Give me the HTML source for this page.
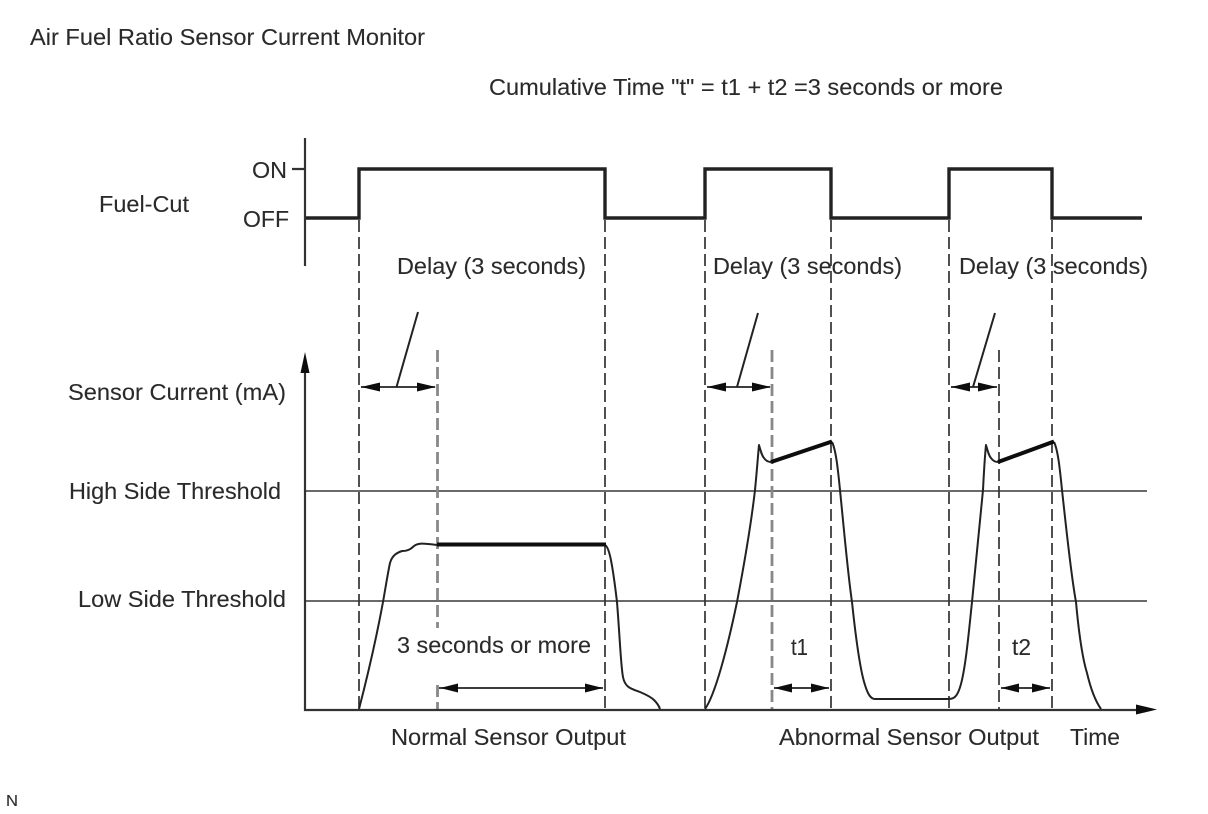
<!DOCTYPE html>
<html>
<head>
<meta charset="utf-8">
<style>
html,body{margin:0;padding:0;background:#fff}
svg{display:block}
text{font-family:"Liberation Sans",Arial,sans-serif;font-size:23px;fill:#2a2a2a;stroke:#2a2a2a;stroke-width:.1}
</style>
</head>
<body>
<svg width="1208" height="814" viewBox="0 0 1208 814" xmlns="http://www.w3.org/2000/svg">
<defs>
<filter id="b" x="-5%" y="-5%" width="110%" height="110%"><feGaussianBlur stdDeviation="0.35"/></filter>
</defs>
<rect width="1208" height="814" fill="#fff"/>
<g filter="url(#b)">
<!-- thresholds -->
<g stroke="#555" stroke-width="1.8" fill="none">
<path d="M305 491H1147M305 601H1147"/>
</g>
<!-- dashed -->
<g stroke="#333" stroke-width="1.7" fill="none" stroke-dasharray="12 5">
<path d="M359 220V709M605 220V709M705 220V709M831 220V709M949 220V709M1052 220V709"/>
<path d="M999 350V709"/>
</g>
<g stroke="#888" stroke-width="2.8" fill="none" stroke-dasharray="12 5">
<path d="M437.500 350V628M437.500 685V709M772 350V709"/>
</g>
<!-- axes -->
<g stroke="#333" stroke-width="2.2" fill="none">
<path d="M305 138V266M292 169H305"/>
<path d="M305 365V710H1142"/>
</g>
<path d="M305 352L309.500 373H300.500Z" fill="#111"/>
<path d="M1157 709.500L1136 704.500V714.500Z" fill="#111"/>
<!-- fuel cut -->
<path d="M306 218H359V169H605V218H705V169H831V218H949V169H1052V218H1142" fill="none" stroke="#222" stroke-width="3.4"/>
<!-- curves -->
<g fill="none" stroke="#222" stroke-width="2" stroke-linejoin="round">
<path d="M359 709C366 682 376 640 383 602C386 585 388 572 390 563C392 556 396 553 402 551C408 551 411 549 414 546C418 543 422 543 437 545"/>
<path d="M605 545C609 547 612 560 617 602C620 640 621 668 623 677C625 688 632 689 640 692C647 695 651 697 654 700C657 703 659 706 660 709"/>
<path d="M705 709C715 695 727 650 737 602C745 560 751 525 755 490C757 470 758 455 759 445C761 452 762 456 764 458C766 461 768 462 771 462"/>
<path d="M832 442C836 450 838 470 840 490C845 540 848 575 852 602C856 640 860 670 865 685C868 695 871 699 875 699H949C955 699 958 695 961 684C966 665 969 630 972 602C976 560 980 520 983 490C984 470 985 455 986 445C988 452 989 456 991 458C993 461 995 462 998 462"/>
<path d="M1054 442C1058 450 1060 470 1062 490C1067 535 1071 575 1076 602C1079 635 1083 660 1087 673C1091 690 1096 702 1101 709"/>
<path d="M396.500 387L418 312M737 387L758 313M973 387L995 313"/>
</g>
<!-- bold segments -->
<g fill="none" stroke="#111" stroke-width="4">
<path d="M437 544.500H606"/>
<path d="M771 462L832 441.500"/>
<path d="M998 462L1054 441.500"/>
</g>
<!-- dimension arrows -->
<g fill="none" stroke="#222" stroke-width="1.8">
<path d="M361 387H435M707 387H770M951 387H997M439 688H603M774 688H829M1001 688H1050"/>
</g>
<g fill="#111">
<path d="M361 387L380 382.500V391.500Z"/><path d="M436 387L417 382.500V391.500Z"/>
<path d="M707 387L726 382.500V391.500Z"/><path d="M771 387L752 382.500V391.500Z"/>
<path d="M951 387L970 382.500V391.500Z"/><path d="M997 387L978 382.500V391.500Z"/>
<path d="M440 688L458 683.500V692.500Z"/><path d="M603 688L585 683.500V692.500Z"/>
<path d="M774 688L792 683.500V692.500Z"/><path d="M829 688L811 683.500V692.500Z"/>
<path d="M1001 688L1019 683.500V692.500Z"/><path d="M1050 688L1032 683.500V692.500Z"/>
</g>
<!-- labels -->
<text x="30" y="45" textLength="395" lengthAdjust="spacingAndGlyphs">Air Fuel Ratio Sensor Current Monitor</text>
<text x="489" y="95" textLength="514" lengthAdjust="spacingAndGlyphs">Cumulative Time "t" = t1 + t2 =3 seconds or more</text>
<text x="99" y="212" textLength="90" lengthAdjust="spacingAndGlyphs">Fuel-Cut</text>
<text x="252" y="178" textLength="35" lengthAdjust="spacingAndGlyphs">ON</text>
<text x="243" y="227" textLength="46" lengthAdjust="spacingAndGlyphs">OFF</text>
<text x="397" y="274" textLength="189" lengthAdjust="spacingAndGlyphs">Delay (3 seconds)</text>
<text x="713" y="274" textLength="189" lengthAdjust="spacingAndGlyphs">Delay (3 seconds)</text>
<text x="959" y="274" textLength="189" lengthAdjust="spacingAndGlyphs">Delay (3 seconds)</text>
<text x="68" y="400" textLength="218" lengthAdjust="spacingAndGlyphs">Sensor Current (mA)</text>
<text x="69" y="499" textLength="212" lengthAdjust="spacingAndGlyphs">High Side Threshold</text>
<text x="78" y="607" textLength="208" lengthAdjust="spacingAndGlyphs">Low Side Threshold</text>
<text x="397" y="653" textLength="194" lengthAdjust="spacingAndGlyphs">3 seconds or more</text>
<text x="791" y="655" textLength="17" lengthAdjust="spacingAndGlyphs">t1</text>
<text x="1012" y="655" textLength="19" lengthAdjust="spacingAndGlyphs">t2</text>
<text x="391" y="745" textLength="235" lengthAdjust="spacingAndGlyphs">Normal Sensor Output</text>
<text x="779" y="745" textLength="260" lengthAdjust="spacingAndGlyphs">Abnormal Sensor Output</text>
<text x="1070" y="745" textLength="50" lengthAdjust="spacingAndGlyphs">Time</text>
<text x="6" y="806" style="font-size:16px" textLength="12" lengthAdjust="spacingAndGlyphs">N</text>
</g>
</svg>
</body>
</html>
